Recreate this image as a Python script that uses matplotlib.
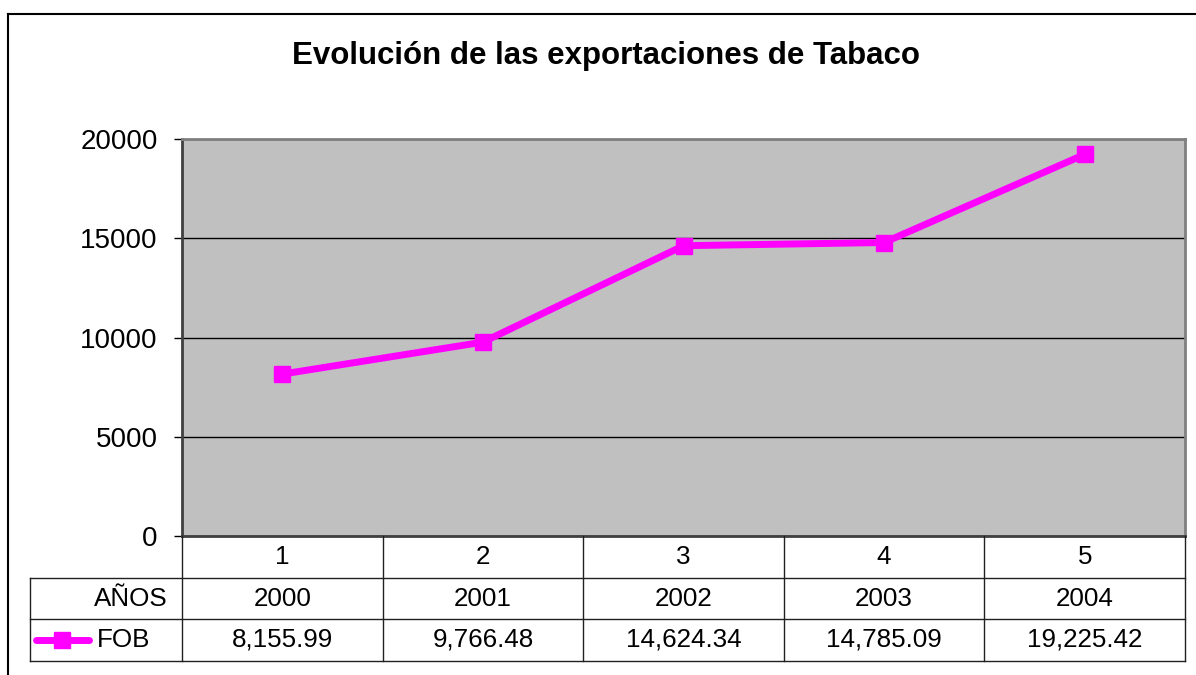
import matplotlib
matplotlib.use("Agg")
import matplotlib.pyplot as plt
from matplotlib import transforms
from matplotlib.lines import Line2D

# data
positions = [1, 2, 3, 4, 5]
years = ['2000', '2001', '2002', '2003', '2004']
fob = [8155.99, 9766.48, 14624.34, 14785.09, 19225.42]
yticks = [0, 5000, 10000, 15000, 20000]

plt.rcParams['font.family'] = ['Liberation Sans', 'DejaVu Sans']

W, H = 1196, 675
fig = plt.figure(figsize=(W / 100, H / 100), dpi=100)


def fx(px):
    return px / W


def fy(py):
    return 1 - py / H


# outer chart frame (only top and left visible)
fig.add_artist(Line2D([fx(8), 1.0], [fy(14), fy(14)], color='black', lw=1.5))
fig.add_artist(Line2D([fx(8), fx(8)], [0.0, fy(14)], color='black', lw=1.5))

fig.text(fx(606), fy(56), 'Evolución de las exportaciones de Tabaco',
         ha='center', va='center', fontsize=22.5, fontweight='bold')

ax = fig.add_axes([fx(182), fy(536), fx(1185) - fx(182), fy(139) - fy(536)])
ax.set_facecolor('#c0c0c0')
ax.plot(positions, fob, color='#ff00ff', lw=5, marker='s', ms=11.5,
        solid_joinstyle='miter', zorder=3)
ax.set_xlim(0.5, 5.5)
ax.set_ylim(0, 20000)
ax.set_yticks(yticks)
ax.set_xticks([])
ax.yaxis.grid(True, color='black', lw=1)
ax.set_axisbelow(True)
ax.tick_params(axis='y', labelsize=20, length=6, width=1, pad=11.5)
for side in ['left', 'bottom']:
    ax.spines[side].set_color('#404040')
    ax.spines[side].set_linewidth(2)
for side in ['top', 'right']:
    ax.spines[side].set_color('#808080')
    ax.spines[side].set_linewidth(2)

# data table under the plot
tr = transforms.blended_transform_factory(ax.transData, fig.transFigure)
row_edges = [536, 578, 619, 661]
row_mid = [557, 598.5, 640]
lc = '#202020'

for b in [p - 0.5 for p in positions] + [positions[-1] + 0.5]:
    fig.add_artist(Line2D([b, b], [fy(row_edges[0]), fy(row_edges[-1])],
                          transform=tr, color=lc, lw=1))
x_left = ax.transData.inverted().transform((fx(30) * W, 0))[0]
for e in row_edges[1:]:
    fig.add_artist(Line2D([x_left, positions[-1] + 0.5], [fy(e), fy(e)],
                          transform=tr, color=lc, lw=1))
fig.add_artist(Line2D([fx(30), fx(30)], [fy(row_edges[1]), fy(row_edges[-1])],
                      color=lc, lw=1))

for p, yr, v in zip(positions, years, fob):
    fig.text(p, fy(row_mid[0]), str(p), transform=tr, ha='center', va='center', fontsize=18.7)
    fig.text(p, fy(row_mid[1]), yr, transform=tr, ha='center', va='center', fontsize=18.7)
    fig.text(p, fy(row_mid[2]), f'{v:,.2f}', transform=tr, ha='center', va='center', fontsize=18.7)

fig.text(fx(168), fy(row_mid[1]), 'AÑOS', ha='right', va='center', fontsize=18.7)
fig.text(fx(97), fy(row_mid[2]), 'FOB', ha='left', va='center', fontsize=18.7)
fig.add_artist(Line2D([fx(36), fx(89)], [fy(row_mid[2]), fy(row_mid[2])],
                      color='#ff00ff', lw=5, solid_capstyle='round'))
fig.add_artist(Line2D([fx(62)], [fy(row_mid[2])], color='#ff00ff',
                      marker='s', ms=11.5, lw=0))

fig.savefig('out.png', dpi=100)
